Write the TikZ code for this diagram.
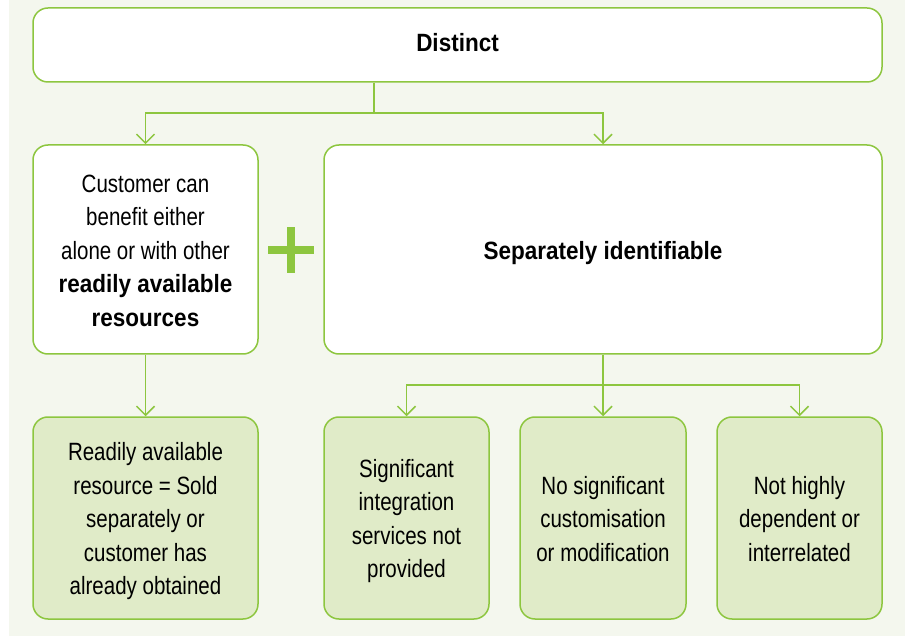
\documentclass[tikz,border=0pt]{standalone}
\usepackage{fontspec}
\setmainfont{Liberation Sans}[FakeStretch=0.82,BoldFeatures={FakeStretch=0.9}]
\usetikzlibrary{arrows.meta}
\definecolor{gline}{HTML}{8DC63F}
\definecolor{gfill}{HTML}{E0EBC8}
\definecolor{bgc}{HTML}{F4F7EE}
\newcommand{\shiftup}[2]{\raisebox{#1}[\height][\depth]{#2}}
\begin{document}
\begin{tikzpicture}[x=1pt,y=-1pt,
  box/.style={draw=gline,line width=1.5pt,rounded corners=15pt,fill=white,
    align=center,inner sep=0pt,font=\fontsize{25}{33.5}\selectfont},
  lowbox/.style={box,fill=gfill},
  conn/.style={draw=gline,line width=1.5pt},
  arr/.style={conn,-{Straight Barb[length=9pt,width=18pt,line width=1.5pt]}}]
\useasboundingbox[fill=white] (0,0) rectangle (908,636);
\fill[bgc] (9,0) rectangle (905,636);
\node[box,minimum width=849pt,minimum height=74pt] (distinct) at (457.5,45) {\shiftup{2.5pt}{\textbf{Distinct}}};
\node[box,minimum width=225pt,minimum height=209pt] (left) at (145.5,249.5)
  {\shiftup{-3pt}{\begin{tabular}{@{}c@{}}Customer can\\benefit either\\alone or with other\\\textbf{readily available}\\\textbf{resources}\end{tabular}}};
\node[box,minimum width=558pt,minimum height=209pt] (right) at (603,249.5) {\shiftup{-3.5pt}{\textbf{Separately identifiable}}};
\node[lowbox,minimum width=225pt,minimum height=202pt] (lb) at (145.5,518)
  {\shiftup{-3pt}{\begin{tabular}{@{}c@{}}Readily available\\resource = Sold\\separately or\\customer has\\already obtained\end{tabular}}};
\node[lowbox,minimum width=165pt,minimum height=202pt] (b1) at (406.5,518)
  {\shiftup{-3pt}{\begin{tabular}{@{}c@{}}Significant\\integration\\services not\\provided\end{tabular}}};
\node[lowbox,minimum width=166pt,minimum height=202pt] (b2) at (603,518)
  {\shiftup{-3pt}{\begin{tabular}{@{}c@{}}No significant\\customisation\\or modification\end{tabular}}};
\node[lowbox,minimum width=165pt,minimum height=202pt] (b3) at (799.5,518)
  {\shiftup{-3pt}{\begin{tabular}{@{}c@{}}Not highly\\dependent or\\interrelated\end{tabular}}};
\fill[gline] (268,246) rectangle (314,254);
\fill[gline] (287,227) rectangle (295,273);
\coordinate (j1) at (374,113);
\coordinate (j2) at (603,385);
\draw[conn] (distinct.south -| j1) -- (j1);
\draw[arr] (j1) -| (left.north);
\draw[arr] (j1) -| (right.north);
\draw[arr] (left.south) -- (lb.north);
\draw[conn] (right.south) -- (j2);
\draw[arr] (j2) -| (b1.north);
\draw[arr] (j2) -- (b2.north);
\draw[arr] (j2) -| (b3.north);
\end{tikzpicture}
\end{document}
